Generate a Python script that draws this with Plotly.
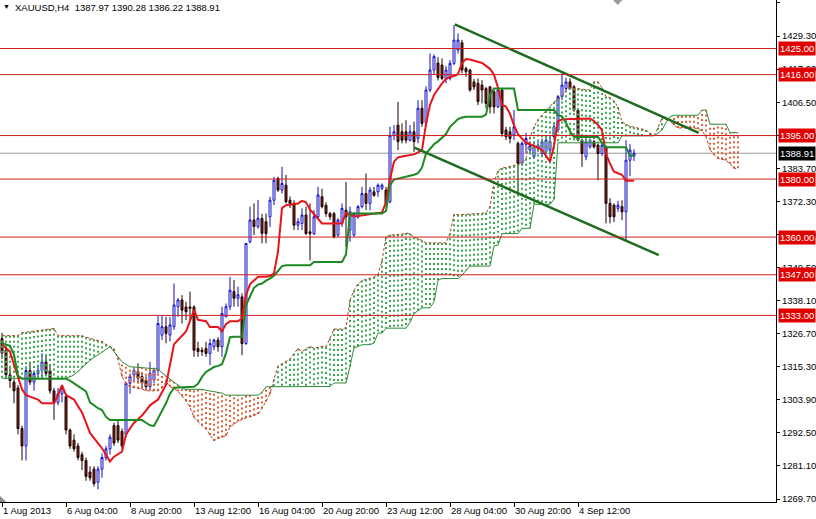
import plotly.graph_objects as go

# ---------------- data (bar index = H4 bar, prices in USD) ----------------
opens = [1325, 1321, 1312.5, 1310, 1308, 1294, 1288, 1314, 1310, 1313,
         1314, 1317, 1314, 1307, 1303, 1306, 1305, 1293.5, 1290, 1288,
         1285, 1283, 1279, 1280, 1275.5, 1280, 1284, 1287, 1295, 1295,
         1293, 1292, 1309.6, 1312.4, 1313.6, 1311.9, 1310.7, 1308.4, 1310.7, 1314,
         1326.2, 1329.1, 1326.2, 1329.1, 1336, 1338.3, 1335.9, 1335.9, 1335.9, 1321.6,
         1321, 1321.6, 1319.9, 1322.2, 1324.5, 1322.2, 1332.5, 1336, 1341.2, 1338.9,
         1339.4, 1323.3, 1358.4, 1365.9, 1363.6, 1366.4, 1365.3, 1367, 1372.7, 1380.2,
         1376.2, 1377.9, 1372.7, 1371.6, 1364.1, 1364.7, 1367.6, 1361.8, 1361.2, 1367,
         1373.9, 1371, 1368.1, 1368.1, 1360.7, 1364.7, 1369.3, 1362.4, 1360.7, 1366.9,
         1370.5, 1375, 1371.6, 1375.6, 1375.6, 1376.8, 1376.2, 1372.2, 1395, 1398.6,
         1396.3, 1396.3, 1393.4, 1396.3, 1394, 1404.4, 1399.5, 1410.7, 1417.6, 1420,
         1419.3, 1414.7, 1414.7, 1419.9, 1424.5, 1427, 1418.1, 1417.6, 1413.5, 1413,
         1412.4, 1411.2, 1411.8, 1410.1, 1404.9, 1410.7, 1396.9, 1396.3, 1395.2, 1392.3,
         1385.4, 1392, 1390, 1387.7, 1390.6, 1388.8, 1389.4, 1390, 1394.6, 1396.9,
         1408.4, 1411.2, 1413.5, 1411.8, 1403.8, 1393.4, 1387.7, 1391.1, 1392.9, 1391.7,
         1388.8, 1391.1, 1371.6, 1371, 1369.9, 1370.5, 1368.7, 1386.5, 1387.97]
highs = [1327, 1322, 1315, 1311, 1309, 1295, 1315.5, 1317, 1314, 1316,
         1320, 1319, 1316, 1308, 1308, 1309, 1306, 1294, 1292, 1289,
         1286, 1284, 1281, 1281, 1281, 1285.4, 1288, 1292, 1296, 1297,
         1294, 1310, 1313, 1315, 1316.5, 1313, 1312, 1317, 1315, 1333,
         1333, 1332.5, 1332.5, 1344, 1339, 1340, 1337.7, 1341.2, 1336.5, 1323.9,
         1322, 1323.9, 1325, 1325, 1325.5, 1336, 1337.1, 1346.3, 1345.2, 1342.9,
         1340.6, 1358, 1370.5, 1371.6, 1372.8, 1368, 1368.1, 1373.9, 1380.8, 1380.8,
         1384.2, 1381.4, 1374, 1372.7, 1366.5, 1369.9, 1370.5, 1371.6, 1369.3, 1377.3,
         1376.7, 1372, 1368.7, 1368.7, 1366.5, 1371.6, 1379, 1370.5, 1368.7, 1371,
         1377.3, 1381.9, 1377.3, 1377.3, 1378.5, 1378.5, 1377.3, 1398, 1398.6, 1406.6,
         1399.2, 1400.3, 1398.6, 1399.8, 1407.2, 1407.2, 1412, 1423.3, 1423, 1422,
         1421.6, 1419, 1421, 1433.1, 1430.2, 1428, 1418.7, 1418, 1414.5, 1414.7,
         1414.1, 1411.8, 1412, 1410.7, 1411.8, 1411.2, 1398, 1398, 1403.8, 1393,
         1393, 1396, 1393, 1393, 1393, 1394, 1395, 1395, 1399, 1409,
         1416.4, 1415, 1414.7, 1412.4, 1404.5, 1394, 1394.6, 1394, 1393.5, 1392.3,
         1392.5, 1391.5, 1373.4, 1371.6, 1372.5, 1372.7, 1393.4, 1392, 1390.28]
lows = [1318, 1311, 1308, 1302.7, 1292, 1283, 1283, 1309, 1307, 1311,
        1311, 1312, 1306, 1297, 1302, 1303, 1292, 1287, 1286, 1283,
        1279.7, 1276, 1276, 1274, 1273, 1277, 1283, 1285, 1288, 1289,
        1287, 1291, 1306, 1310, 1309.6, 1308, 1307.5, 1307.3, 1309.6, 1313,
        1324.5, 1323.4, 1324, 1328, 1332.5, 1330.2, 1331.4, 1331.4, 1318.7, 1318.7,
        1319, 1318.7, 1315.9, 1321, 1320.5, 1318.7, 1332.5, 1334.8, 1336, 1336,
        1319.3, 1322.8, 1357.8, 1360.7, 1362.9, 1357.8, 1357.9, 1363.5, 1371, 1375.6,
        1375, 1371.6, 1370, 1362.4, 1362.4, 1362.4, 1360.7, 1352, 1360.7, 1366.5,
        1369.9, 1367, 1365.9, 1359.5, 1360.1, 1363.5, 1356.6, 1358.4, 1360.1, 1366.3,
        1369.9, 1369.3, 1369.3, 1373.9, 1373.9, 1376.2, 1370.5, 1371.6, 1393.4, 1390,
        1392.3, 1392.3, 1393, 1389.4, 1392.3, 1398, 1398, 1410, 1416, 1414,
        1414.1, 1413, 1414, 1419.3, 1423.3, 1416.4, 1415.3, 1410.1, 1410.7, 1405.5,
        1406.1, 1404.4, 1402.6, 1402.6, 1404.4, 1394.6, 1393.4, 1392.3, 1393.4, 1374.5,
        1384.5, 1389, 1388.5, 1387, 1389.5, 1388, 1388.5, 1388, 1393.5, 1396,
        1407.2, 1410.5, 1410.7, 1403.2, 1393, 1384.2, 1386.5, 1390.5, 1390.5, 1379.6,
        1388, 1364.7, 1364.7, 1365.2, 1368.7, 1365.8, 1359, 1381, 1386.22]
closes = [1320, 1312.5, 1310.5, 1307, 1294, 1288, 1314, 1310, 1313, 1314,
          1317, 1313, 1307, 1303, 1306, 1308, 1293.5, 1288, 1287, 1284,
          1283, 1277.5, 1277, 1275, 1280, 1284, 1287, 1291, 1289, 1290,
          1288, 1309.6, 1312, 1314, 1311.3, 1309.6, 1308.4, 1313, 1314.2, 1330.2,
          1329.1, 1326.8, 1329.7, 1336.6, 1338.3, 1334.8, 1334.3, 1335.4, 1321, 1320.5,
          1320.5, 1319.9, 1323.3, 1324.5, 1322.2, 1333.7, 1336, 1341.7, 1338.9, 1340.1,
          1323.3, 1357.8, 1365.9, 1363.6, 1366.5, 1361.3, 1361.2, 1372.7, 1379.6, 1376.2,
          1378.5, 1372.2, 1371.6, 1364.1, 1365.3, 1367.6, 1361.2, 1361.2, 1367, 1374.5,
          1370.5, 1368.1, 1367, 1360.1, 1365.9, 1369.9, 1367, 1368.7, 1368.1, 1370.5,
          1375, 1371.6, 1376.2, 1374.4, 1377.9, 1377.9, 1371.6, 1395.1, 1396.3, 1392.9,
          1393.4, 1393.4, 1396.3, 1392.9, 1404.4, 1399.2, 1410.7, 1417.6, 1422.2, 1415,
          1414.7, 1417.6, 1419.9, 1427.9, 1427.9, 1417.6, 1417, 1410.7, 1411.8, 1406.7,
          1410.7, 1406.1, 1404.9, 1404.9, 1410.7, 1395.7, 1394.6, 1394, 1398, 1385.4,
          1392.3, 1394, 1391.5, 1391.1, 1391.7, 1392.9, 1393.4, 1393, 1398, 1408.4,
          1412.4, 1413.5, 1411.2, 1403.8, 1393.4, 1388.8, 1392.9, 1393.4, 1391.1, 1388.8,
          1391.7, 1371.6, 1367, 1367, 1371, 1368.7, 1386.5, 1390, 1388.91]

tenkan = [1323, 1321.7, 1320.5, 1316, 1311.5, 1307.5, 1305.5, 1305, 1304.5, 1304,
          1302.7, 1302.7, 1302.7, 1302.7, 1305.5, 1309, 1305.5, 1304.7, 1304, 1301.7,
          1299.5, 1296, 1292.5, 1290.7, 1289, 1287.2, 1285, 1282.6, 1284.3, 1285.2,
          1286, 1292, 1294, 1296, 1297.2, 1298.5, 1300.2, 1302, 1303, 1304,
          1306.5, 1309, 1316, 1323, 1324.5, 1326, 1327.5, 1331, 1334.8, 1331.5,
          1331.3, 1331, 1329, 1329, 1329, 1327.5, 1330, 1331, 1331, 1331,
          1332, 1340, 1343.7, 1345, 1346.3, 1346.3, 1346.3, 1346.6, 1347.5, 1355,
          1370, 1371, 1371.2, 1371.4, 1371.6, 1372.5, 1372, 1369.5, 1368, 1366.5,
          1364.7, 1364.7, 1364.7, 1364.7, 1364.7, 1364.7, 1368.3, 1367.7, 1367.2, 1367.3,
          1367.5, 1367.7, 1367.9, 1368.1, 1368.3, 1368.5, 1372, 1380, 1386, 1387.5,
          1387.8, 1388, 1388.2, 1388.5, 1389.2, 1390, 1399, 1405.5, 1409, 1411,
          1413, 1414.5, 1415.2, 1415.5, 1416.2, 1420, 1421.4, 1421.2, 1420.8, 1420.5,
          1420, 1419, 1418, 1416, 1411.5, 1405.5, 1405, 1402.5, 1398.5, 1395.5,
          1394, 1392.5, 1392, 1391.5, 1390.8, 1390, 1388, 1386, 1391.5, 1400,
          1400.5, 1400.7, 1400.7, 1400.7, 1400.7, 1400.7, 1400.8, 1400.9, 1400, 1398.7,
          1396.9, 1388.7, 1385.3, 1382.5, 1382, 1381.5, 1379.4, 1379.4, 1379.4]
kijun = [1323.4, 1323, 1322.5, 1319.5, 1312.2, 1311.2, 1311.2, 1311.2, 1311.2, 1311.2,
         1311.2, 1311.2, 1311.2, 1311.2, 1311.2, 1311.2, 1311.2, 1310.5, 1309.5, 1308.5,
         1307.5, 1306.8, 1303, 1302, 1301, 1300.4, 1298, 1296.9, 1296.9, 1296.9,
         1296.9, 1296.9, 1296.9, 1296.9, 1296.9, 1296.9, 1296, 1295.1, 1294.9, 1297.5,
         1300, 1302.7, 1306, 1308, 1308.1, 1308.2, 1308.3, 1308.4, 1308.4, 1309.4,
         1311.8, 1313.5, 1314.4, 1315.2, 1315.6, 1316.2, 1320, 1325.5, 1325.6, 1325.6,
         1325.6, 1336.5, 1339.5, 1342.5, 1343.6, 1344, 1345, 1345.7, 1346.7, 1348.5,
         1350, 1350.3, 1350.3, 1350.3, 1350.3, 1350.3, 1350.3, 1350.3, 1351.4, 1351.4,
         1351.4, 1351.4, 1351.4, 1351.4, 1351.4, 1351.4, 1354, 1368.1, 1368.1, 1368.1,
         1368.1, 1368.1, 1368.1, 1368.1, 1368.1, 1368.1, 1369, 1378, 1379.8, 1380.1,
         1380.5, 1380.8, 1381, 1381.5, 1382, 1384, 1388.8, 1390.6, 1392, 1393,
         1394.2, 1395.5, 1398, 1399.5, 1400.7, 1401.2, 1401.5, 1401.5, 1401.5, 1401.5,
         1401.5, 1402.2, 1409, 1411.2, 1411.2, 1411.2, 1411.2, 1411.2, 1411.2, 1403.8,
         1403.8, 1403.8, 1403.8, 1403.8, 1403.8, 1403.8, 1403.8, 1403.8, 1403.8, 1402,
         1401.6, 1399.3, 1396.5, 1394.5, 1394.5, 1394.5, 1394.5, 1394.5, 1394.5, 1394.5,
         1392.5, 1391, 1391, 1391, 1391, 1391, 1391, 1388, 1388]
span_a = [1326, 1326, 1326, 1326, 1326, 1327, 1327.2, 1327.4, 1327.6, 1327.8,
          1328, 1328.2, 1328.3, 1328.5, 1326, 1326, 1326, 1326, 1326, 1326,
          1326, 1325.5, 1325, 1324.7, 1324.3, 1324, 1323, 1322.4, 1321.5, 1317.8,
          1311.9, 1309.4, 1308.4, 1308.1, 1307.8, 1307.6, 1307, 1307, 1307, 1307,
          1308, 1310.1, 1308.4, 1307.8, 1306.8, 1305.2, 1303.5, 1301.4, 1297.8, 1296.4,
          1295, 1293.8, 1291.8, 1289.8, 1290.6, 1291, 1291.5, 1294.5, 1295.5, 1296.5,
          1297.1, 1297.7, 1298, 1298.5, 1299, 1300.9, 1303.2, 1305.9, 1311, 1315.5,
          1316.3, 1317.1, 1318, 1319.8, 1321.6, 1320.5, 1321.5, 1322.3, 1321.7, 1322,
          1322.3, 1322.1, 1325, 1328.3, 1328.3, 1328.3, 1328.8, 1338.3, 1341.6, 1343.8,
          1345, 1345.4, 1345.7, 1346.2, 1347.1, 1351.8, 1360, 1360.7, 1360.8, 1360.9,
          1361, 1361.4, 1361.2, 1359.9, 1359.5, 1358.8, 1358, 1358, 1358, 1358,
          1358, 1358, 1361.3, 1367.9, 1367.7, 1367.7, 1367.8, 1367.9, 1368, 1368.1,
          1368.2, 1368.3, 1370.5, 1379, 1382.9, 1383.8, 1384, 1384.3, 1384.6, 1385,
          1385.6, 1387, 1394.4, 1398, 1400.5, 1402, 1403.5, 1405, 1406.6, 1407.5,
          1408.5, 1410.6, 1411.5, 1411.3, 1411.2, 1411, 1410.8, 1410.7, 1413.5, 1413.6,
          1411.4, 1408.4, 1408.1, 1406.9, 1404.8, 1399.7, 1398.9, 1398.2, 1397.9, 1397.6,
          1397.3, 1396.9, 1395.9, 1394.9, 1397.7, 1401, 1401, 1400, 1398.6, 1397.6,
          1397.6, 1397.7, 1397.7, 1397.7, 1397.2, 1396.6, 1394.7, 1390.1, 1388.4, 1387.1,
          1386.8, 1386.5, 1385.3, 1383.7, 1383.7]
span_b = [1311.3, 1311.3, 1311.3, 1311.3, 1311.3, 1311.3, 1311.3, 1311.3, 1311.3, 1311.3,
          1311.3, 1311.3, 1311.3, 1311.3, 1311.3, 1311.3, 1311.3, 1311.8, 1312.5, 1313.7,
          1315, 1316.2, 1317.5, 1318.5, 1319.5, 1320.5, 1321.5, 1322.2, 1320.5, 1318.7,
          1317, 1316.1, 1315.3, 1315.2, 1315.1, 1315, 1314.9, 1314.8, 1314.6, 1314.5,
          1313.2, 1312, 1311, 1310, 1309, 1308, 1307.5, 1307.5, 1307.5, 1307.5,
          1307.5, 1307.2, 1307, 1306.7, 1306.5, 1306.2, 1305.5, 1305.5, 1305.5, 1305.5,
          1305.5, 1305.5, 1305.5, 1305.5, 1305.5, 1306.5, 1308.4, 1308.4, 1308.4, 1308.4,
          1308.4, 1308.4, 1308.4, 1308.4, 1308.4, 1308.4, 1308.4, 1308.4, 1308.5, 1308.5,
          1308.5, 1308.5, 1308.5, 1309.7, 1309.7, 1309.7, 1309.7, 1315.5, 1321.8, 1322.3,
          1322.9, 1322.9, 1322.9, 1323.5, 1326.9, 1326.9, 1328.6, 1328.6, 1328.6, 1328.6,
          1328.6, 1328.6, 1330.6, 1333.6, 1334.6, 1335.6, 1335.6, 1335.6, 1337.6, 1345.1,
          1345.7, 1345.7, 1345.7, 1345.7, 1345.7, 1346.9, 1348.6, 1350, 1350, 1350,
          1350, 1350, 1350, 1357, 1357.2, 1361.2, 1361.2, 1361.2, 1361.2, 1361.2,
          1363, 1363, 1363, 1371.3, 1371.3, 1371.3, 1371.3, 1371.3, 1373, 1392.5,
          1392.5, 1392.5, 1392.5, 1392.5, 1392.5, 1392.5, 1392.5, 1392.5, 1392.5, 1392.5,
          1392.5, 1392.5, 1392.5, 1392.5, 1392.5, 1394.9, 1394.9, 1394.9, 1394.9, 1394.9,
          1394.9, 1394.9, 1394.9, 1394.9, 1395.8, 1396.9, 1399.5, 1401.5, 1402, 1402,
          1402, 1402, 1402, 1402, 1402, 1403.8, 1403.8, 1398.9, 1398.9, 1398.9,
          1398.9, 1398.9, 1396, 1396, 1396]

levels = [1425, 1416, 1395, 1380, 1360, 1347, 1333]
last_price = 1388.91
upper_trend_bar = [113.2, 174.2]
upper_trend_price = [1433.3, 1395.9]
lower_trend_bar = [103.1, 164.2]
lower_trend_price = [1390.8, 1353.8]

y_tick_values = [1440.7, 1429.3, 1417.9, 1406.5, 1395.1, 1383.7, 1372.3, 1360.9,
                 1349.5, 1338.1, 1326.7, 1315.3, 1303.9, 1292.5, 1281.1, 1269.7]
x_tick_bars = [0, 16, 32, 48, 64, 80, 96, 112, 128, 144]
x_tick_labels = ["1 Aug 2013", "6 Aug 04:00", "8 Aug 20:00", "13 Aug 12:00",
                 "16 Aug 04:00", "20 Aug 20:00", "23 Aug 12:00", "28 Aug 04:00",
                 "30 Aug 20:00", "4 Sep 12:00"]
title_text = "XAUUSD,H4\u00a0 1387.97 1390.28 1386.22 1388.91"

# ---------------- figure ----------------
FONT = "Liberation Sans"
FS = 9.5
bars = list(range(len(opens)))
cloud_bars = list(range(len(span_a)))

fig = go.Figure()

# cloud hatching (vertical dotted lines per bar)
gx, gy, rx, ry = [], [], [], []
for i in cloud_bars:
    if span_a[i] >= span_b[i]:
        gx += [i, i, None]; gy += [span_a[i], span_b[i], None]
    else:
        rx += [i, i, None]; ry += [span_a[i], span_b[i], None]
fig.add_trace(go.Scatter(x=gx, y=gy, mode="lines", hoverinfo="skip",
                         line=dict(color="#3aa850", width=2, dash="2px,3px")))
fig.add_trace(go.Scatter(x=rx, y=ry, mode="lines", hoverinfo="skip",
                         line=dict(color="#e0643a", width=2, dash="2px,3px")))
fig.add_trace(go.Scatter(x=cloud_bars, y=span_a, mode="lines", hoverinfo="skip",
                         line=dict(color="#b4402a", width=1, dash="3px,2px")))
fig.add_trace(go.Scatter(x=cloud_bars, y=span_b, mode="lines", hoverinfo="skip",
                         line=dict(color="#2f8a38", width=1)))

# candles
fig.add_trace(go.Candlestick(
    x=bars, open=opens, high=highs, low=lows, close=closes,
    increasing=dict(line=dict(color="#1010c8", width=1), fillcolor="#ffffff"),
    decreasing=dict(line=dict(color="#200000", width=1), fillcolor="#7a2418"),
    whiskerwidth=0, hoverinfo="skip"))

# tenkan / kijun
fig.add_trace(go.Scatter(x=bars, y=tenkan, mode="lines", hoverinfo="skip",
                         line=dict(color="#e8141b", width=2)))
fig.add_trace(go.Scatter(x=bars, y=kijun, mode="lines", hoverinfo="skip",
                         line=dict(color="#1c8a22", width=2)))

# trend lines
fig.add_trace(go.Scatter(x=upper_trend_bar, y=upper_trend_price, mode="lines",
                         hoverinfo="skip", line=dict(color="#1e6a1e", width=2.5)))
fig.add_trace(go.Scatter(x=lower_trend_bar, y=lower_trend_price, mode="lines",
                         hoverinfo="skip", line=dict(color="#1e6a1e", width=2.5)))

shapes = []
shapes.append(dict(type="line", xref="paper", x0=0, x1=1, yref="y",
                   y0=last_price, y1=last_price, layer="below",
                   line=dict(color="#9a9a9a", width=1)))
for lv in levels:
    shapes.append(dict(type="line", xref="paper", x0=0, x1=1, yref="y",
                       y0=lv, y1=lv, line=dict(color="#d01c1c", width=1)))
# MT4 chart-shift marker (top) and corner marker (bottom-left)
shapes.append(dict(type="path", xref="paper", yref="paper",
                   path="M 0.790 1 L 0.802 1 L 0.796 0.99 Z",
                   fillcolor="#9a9a9a", line=dict(width=0)))
shapes.append(dict(type="path", xref="paper", yref="paper",
                   path="M 0 0.012 L 0.008 0 L 0 0 Z",
                   fillcolor="#8a8a8a", line=dict(width=0)))

annotations = []
for lv in levels:
    annotations.append(dict(x=1, xref="paper", xanchor="left", xshift=2,
                            y=lv, yref="y", yanchor="middle", showarrow=False,
                            text=f"{lv:.2f}", bgcolor="#e00000", borderpad=1,
                            font=dict(family=FONT, size=FS, color="white")))
annotations.append(dict(x=1, xref="paper", xanchor="left", xshift=2,
                        y=last_price, yref="y", yanchor="middle", showarrow=False,
                        text=f"{last_price:.2f}", bgcolor="#000000", borderpad=1,
                        font=dict(family=FONT, size=FS, color="white")))
annotations.append(dict(x=0, xref="paper", xanchor="left", xshift=1,
                        y=1, yref="paper", yanchor="top", yshift=-1,
                        showarrow=False, text="\u25bc",
                        font=dict(family=FONT, size=7, color="black")))
annotations.append(dict(x=0, xref="paper", xanchor="left", xshift=13,
                        y=1, yref="paper", yanchor="top", yshift=0,
                        showarrow=False, text=title_text,
                        font=dict(family=FONT, size=FS, color="black")))

fig.update_layout(
    width=816, height=519,
    margin=dict(l=0, r=40, t=0, b=17, autoexpand=False),
    paper_bgcolor="white", plot_bgcolor="white",
    showlegend=False, hovermode=False,
    shapes=shapes, annotations=annotations,
    font=dict(family=FONT, size=FS, color="black"),
    xaxis=dict(range=[-0.5, 193.5], rangeslider=dict(visible=False),
               automargin=False, tickangle=0,
               showgrid=False, zeroline=False, showline=True, linecolor="black",
               linewidth=1, ticks="outside", ticklen=4, tickcolor="black",
               tickvals=x_tick_bars, ticktext=x_tick_labels,
               ticklabelposition="outside right",
               tickfont=dict(family=FONT, size=FS, color="black")),
    yaxis=dict(range=[1268.67, 1441.73], side="right", showgrid=False,
               automargin=False,
               zeroline=False, showline=True, linecolor="black", linewidth=1,
               ticks="outside", ticklen=3, tickcolor="black",
               tickvals=y_tick_values, tickformat=".2f",
               tickfont=dict(family=FONT, size=FS, color="black")),
)

fig.write_html("out.html", config={"displayModeBar": False},
               post_script="document.body.style.margin='0px';"
                           "document.body.style.overflow='hidden';")
